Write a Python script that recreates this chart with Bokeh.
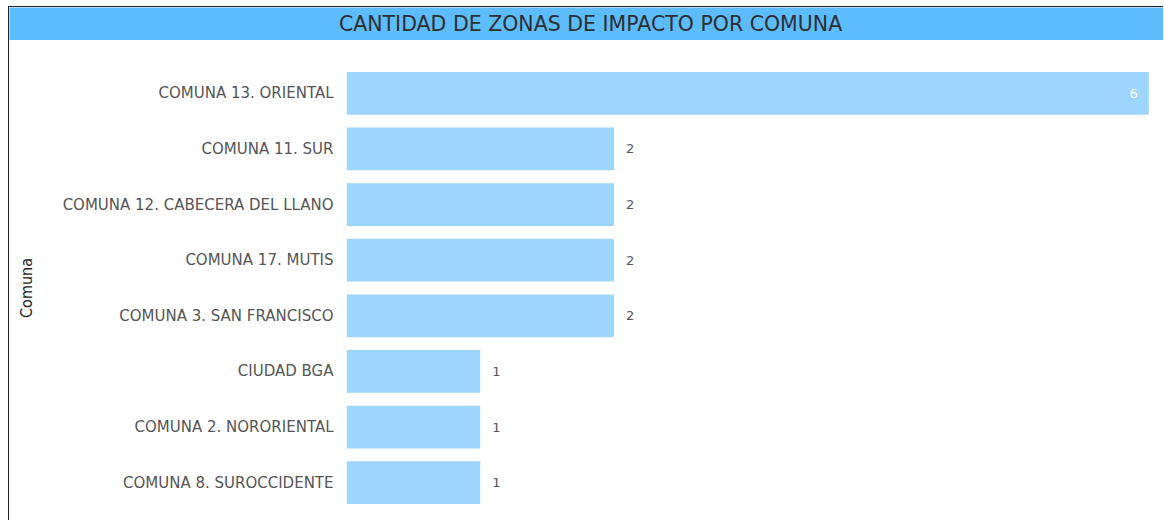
from bokeh.plotting import figure
from bokeh.models import ColumnDataSource, FactorRange, Range1d
from bokeh.layouts import column
from bokeh.embed import file_html
from bokeh.resources import INLINE
from bokeh.core.properties import value

comunas = [
    "COMUNA 13. ORIENTAL",
    "COMUNA 11. SUR",
    "COMUNA 12. CABECERA DEL LLANO",
    "COMUNA 17. MUTIS",
    "COMUNA 3. SAN FRANCISCO",
    "CIUDAD BGA",
    "COMUNA 2. NORORIENTAL",
    "COMUNA 8. SUROCCIDENTE",
]
cantidad = [6, 2, 2, 2, 2, 1, 1, 1]
titulo = "CANTIDAD DE ZONAS DE IMPACTO POR COMUNA"
eje_y = "Comuna"

BAR = "#9dd5fc"
HEAD = "#5cbcfd"
W = 1154

t = figure(width=W, height=33, x_range=Range1d(0, 1), y_range=Range1d(0, 1),
           toolbar_location=None, output_backend="svg", min_border=0,
           x_axis_location=None, y_axis_location=None,
           background_fill_color=HEAD, border_fill_color=HEAD, outline_line_color=None)
t.frame_align = False
t.grid.visible = False
t.text(x=[0.5035], y=[0.5], text=[titulo], text_align="center", text_baseline="middle",
       text_font=value("DejaVu Sans"), text_font_size="20.5px", text_color="#2e2e2e")

maxv = max(cantidad)
out_idx = [i for i, v in enumerate(cantidad) if v < maxv]
in_idx = [i for i, v in enumerate(cantidad) if v >= maxv]
src = ColumnDataSource(dict(comuna=comunas, cantidad=cantidad))
src_out = ColumnDataSource(dict(comuna=[comunas[i] for i in out_idx],
                                cantidad=[cantidad[i] for i in out_idx],
                                etiqueta=[str(cantidad[i]) for i in out_idx]))
src_in = ColumnDataSource(dict(comuna=[comunas[i] for i in in_idx],
                               cantidad=[cantidad[i] for i in in_idx],
                               etiqueta=[str(cantidad[i]) for i in in_idx]))

p = figure(width=W, height=480, y_range=FactorRange(factors=comunas[::-1]),
           x_range=Range1d(0, 6.11), toolbar_location=None, output_backend="svg",
           min_border_left=337, min_border_right=0, min_border_top=25, min_border_bottom=10,
           outline_line_color=None, x_axis_location=None)
p.frame_align = False
p.hbar(y="comuna", right="cantidad", left=0, height=0.77, source=src,
       fill_color=BAR, line_color=None)
p.xgrid.visible = False
p.ygrid.visible = False
p.yaxis.axis_line_color = None
p.yaxis.major_tick_line_color = None
p.yaxis.minor_tick_line_color = None
p.yaxis.major_label_text_font = "DejaVu Sans"
p.yaxis.major_label_text_font_size = "15px"
p.yaxis.major_label_text_color = "#555555"
p.yaxis.major_label_standoff = 7
p.yaxis.axis_label = eje_y
p.yaxis.axis_label_text_font = "DejaVu Sans Condensed"
p.yaxis.axis_label_text_font_style = "normal"
p.yaxis.axis_label_text_font_size = "16px"
p.yaxis.axis_label_text_color = "#222222"
p.yaxis.axis_label_standoff = 24

p.text(x="cantidad", y="comuna", text="etiqueta", source=src_out, x_offset=12,
       text_align="left", text_baseline="middle", text_font=value("DejaVu Sans"),
       text_font_size="13px", text_color="#555555")
p.text(x="cantidad", y="comuna", text="etiqueta", source=src_in, x_offset=-11,
       text_align="right", text_baseline="middle", text_font=value("DejaVu Sans"),
       text_font_size="13px", text_color="#ffffff")

lay = column(t, p, spacing=0,
             styles={"border-left": "1px solid #222222", "border-top": "1px solid #222222",
                     "margin-left": "8px", "margin-top": "6px"})
open("out.html", "w").write(file_html(lay, INLINE))
